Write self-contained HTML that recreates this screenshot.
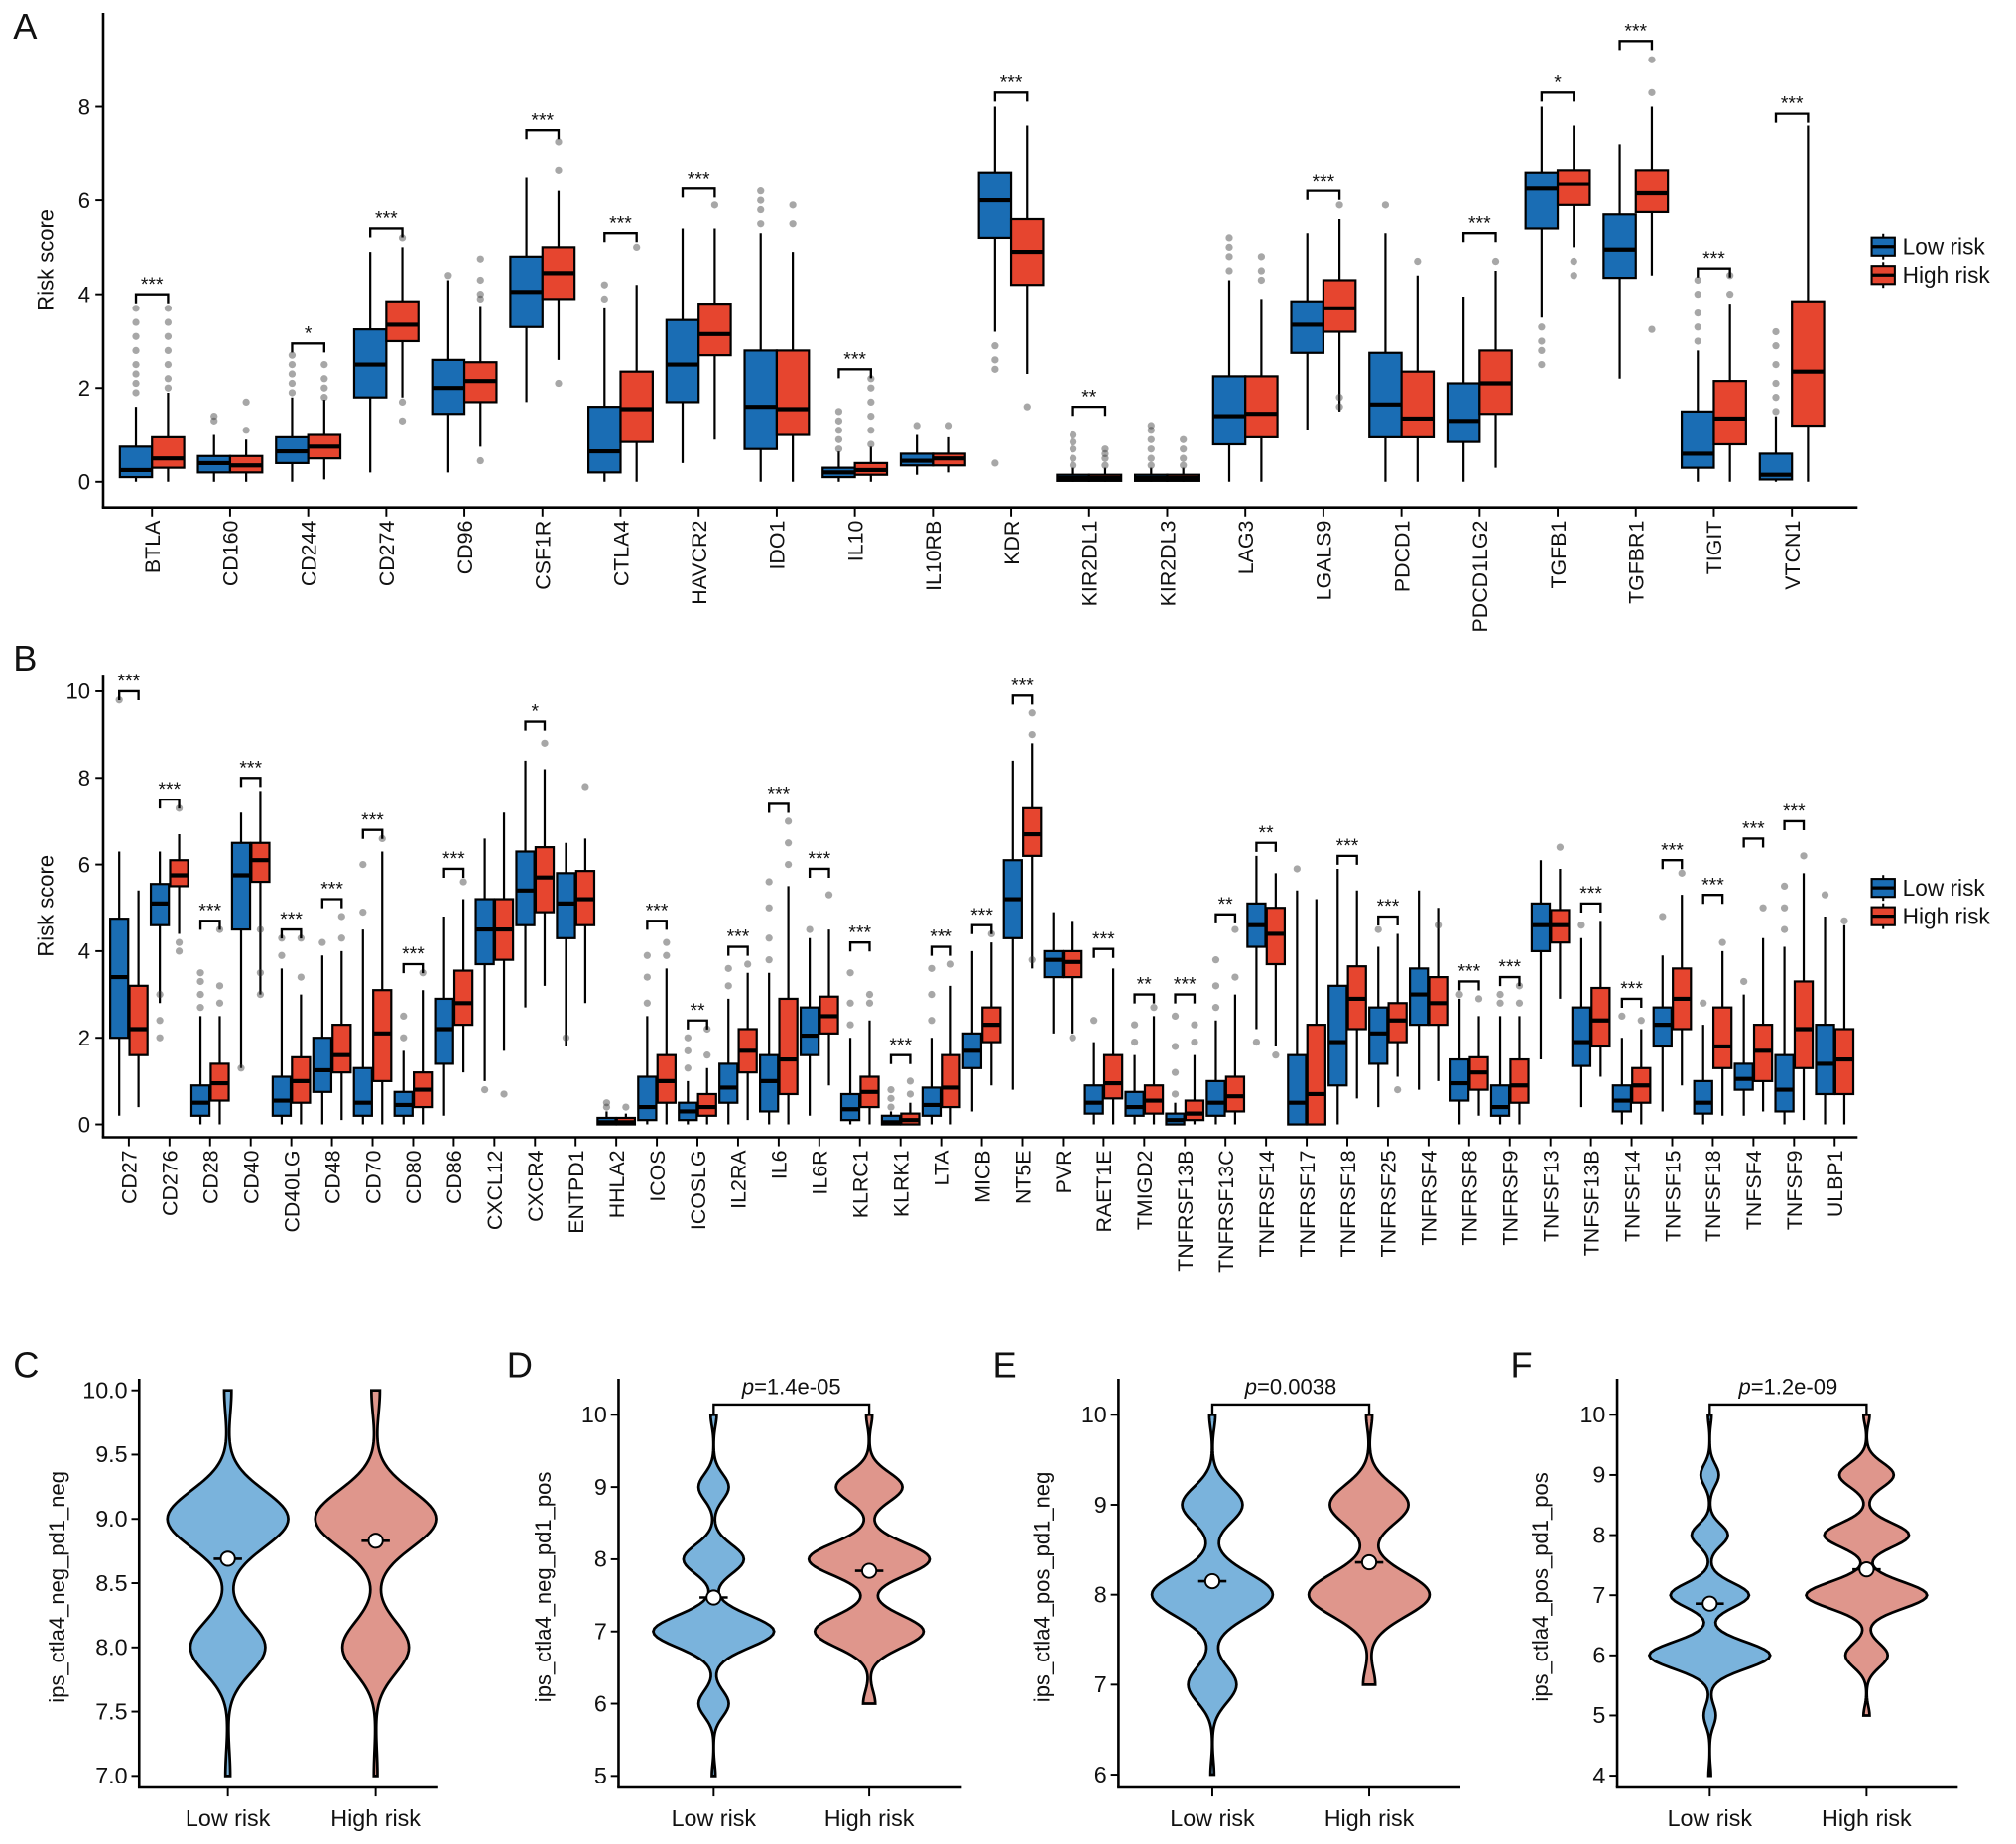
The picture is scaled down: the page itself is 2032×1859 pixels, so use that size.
<!DOCTYPE html>
<html><head><meta charset="utf-8"><style>
html,body{margin:0;padding:0;background:#fff}
svg{display:block}
text{font-family:"Liberation Sans",Arial,sans-serif;fill:#111}
</style></head><body>
<svg id="fig" xmlns="http://www.w3.org/2000/svg" width="2032" height="1859" viewBox="0 0 1568 1435"></svg>
<script>
// ---------- Panel A data ----------
const namesA=["BTLA","CD160","CD244","CD274","CD96","CSF1R","CTLA4","HAVCR2","IDO1","IL10","IL10RB","KDR","KIR2DL1","KIR2DL3","LAG3","LGALS9","PDCD1","PDCD1LG2","TGFB1","TGFBR1","TIGIT","VTCN1"];
// [q1, median, q3, whiskerLow, whiskerHigh]
const lowA=[[0.1,0.25,0.75,0,1.6],[0.2,0.4,0.55,0,1.0],[0.4,0.65,0.95,0,1.8],[1.8,2.5,3.25,0.2,4.9],[1.45,2.0,2.6,0.2,4.3],[3.3,4.05,4.8,1.7,6.5],[0.2,0.65,1.6,0,3.7],[1.7,2.5,3.45,0.4,5.4],[0.7,1.6,2.8,0,5.3],[0.1,0.2,0.3,0,0.65],[0.35,0.45,0.6,0.15,1.0],[5.2,6.0,6.6,3.2,8.0],[0.02,0.08,0.15,0,0.3],[0.02,0.08,0.15,0,0.3],[0.8,1.4,2.25,0,4.3],[2.75,3.35,3.85,1.1,5.3],[0.95,1.65,2.75,0,5.3],[0.85,1.3,2.1,0,3.95],[5.4,6.25,6.6,3.5,8.0],[4.35,4.95,5.7,2.2,7.2],[0.3,0.6,1.5,0,2.8],[0.05,0.15,0.6,0,1.4]];
const highA=[[0.3,0.5,0.95,0,1.9],[0.2,0.35,0.55,0,0.9],[0.5,0.75,1.0,0.05,1.75],[3.0,3.35,3.85,1.8,5.0],[1.7,2.15,2.55,0.75,3.75],[3.9,4.45,5.0,2.6,6.2],[0.85,1.55,2.35,0,4.2],[2.7,3.15,3.8,0.9,5.4],[1.0,1.55,2.8,0,4.9],[0.15,0.25,0.4,0,0.75],[0.35,0.5,0.6,0.2,0.95],[4.2,4.9,5.6,2.3,7.6],[0.02,0.08,0.15,0,0.3],[0.02,0.08,0.15,0,0.3],[0.95,1.45,2.25,0,3.9],[3.2,3.7,4.3,1.5,5.6],[0.95,1.35,2.35,0,4.4],[1.45,2.1,2.8,0.3,4.5],[5.9,6.35,6.65,5.0,7.6],[5.75,6.15,6.65,4.4,8.0],[0.8,1.35,2.15,0,3.8],[1.2,2.35,3.85,0,7.6]];
const outLowA=[[1.9,2.1,2.3,2.5,2.8,3.1,3.4,3.7],[1.3,1.4],[1.9,2.1,2.3,2.5,2.7],[],[4.4],[],[3.9,4.2],[],[5.5,5.8,6.0,6.2],[0.7,0.9,1.1,1.3,1.5],[1.2],[0.4,2.4,2.6,2.9],[0.35,0.5,0.7,0.85,1.0],[0.35,0.5,0.7,0.9,1.1,1.2],[4.5,4.8,5.0,5.2],[],[5.9],[],[2.5,2.8,3.0,3.3],[],[3.0,3.3,3.6,4.0,4.3],[1.5,1.8,2.1,2.5,2.9,3.2]];
const outHighA=[[2.0,2.2,2.5,2.8,3.1,3.4,3.7],[1.1,1.7],[1.8,2.0,2.2,2.5],[1.3,1.7,5.2],[0.45,3.9,4.0,4.3,4.75],[2.1,6.65,7.25],[5.0],[5.9],[5.5,5.9],[0.8,1.1,1.4,1.7,2.0,2.2],[1.2],[1.6],[0.35,0.5,0.6,0.7],[0.35,0.5,0.7,0.9],[4.3,4.5,4.8],[1.6,1.8,5.9],[4.7],[4.7],[4.4,4.7],[3.25,8.3,9.0],[4.0,4.4],[]];
const sigA=["***","","*","***","","***","***","***","","***","","***","**","","","***","","***","*","***","***","***"];
const sigLevelA=[4.0,0,2.95,5.4,0,7.5,5.3,6.25,0,2.4,0,8.3,1.6,0,0,6.2,0,5.3,8.3,9.4,4.55,7.85];
const ticksA=[0,2,4,6,8];

// ---------- Panel B data ----------
const namesB=["CD27","CD276","CD28","CD40","CD40LG","CD48","CD70","CD80","CD86","CXCL12","CXCR4","ENTPD1","HHLA2","ICOS","ICOSLG","IL2RA","IL6","IL6R","KLRC1","KLRK1","LTA","MICB","NT5E","PVR","RAET1E","TMIGD2","TNFRSF13B","TNFRSF13C","TNFRSF14","TNFRSF17","TNFRSF18","TNFRSF25","TNFRSF4","TNFRSF8","TNFRSF9","TNFSF13","TNFSF13B","TNFSF14","TNFSF15","TNFSF18","TNFSF4","TNFSF9","ULBP1"];
const lowB=[[2.0,3.4,4.75,0.2,6.3],[4.6,5.1,5.55,2.8,6.3],[0.2,0.5,0.9,0,2.5],[4.5,5.75,6.5,1.3,7.2],[0.2,0.55,1.1,0,3.6],[0.75,1.25,2.0,0,3.9],[0.2,0.5,1.3,0,4.5],[0.2,0.45,0.75,0,1.7],[1.4,2.2,2.9,0.2,4.8],[3.7,4.5,5.2,1.0,6.6],[4.6,5.4,6.3,2.7,8.4],[4.3,5.1,5.8,1.8,6.5],[0,0.05,0.15,0,0.3],[0.1,0.4,1.1,0,2.5],[0.1,0.3,0.5,0,1.0],[0.5,0.85,1.4,0,2.9],[0.3,1.0,1.6,0,3.5],[1.6,2.05,2.7,0.2,4.3],[0.1,0.35,0.7,0,2.0],[0,0.05,0.2,0,0.3],[0.2,0.45,0.85,0,2.0],[1.3,1.7,2.1,0.3,4.0],[4.3,5.2,6.1,0.8,8.4],[3.4,3.8,4.0,2.1,4.9],[0.25,0.5,0.9,0,1.9],[0.2,0.4,0.75,0,1.6],[0,0.1,0.25,0,0.5],[0.2,0.5,1.0,0,2.4],[4.1,4.6,5.1,2.2,6.2],[0,0.5,1.6,0,5.4],[0.9,1.9,3.2,0,5.9],[1.4,2.1,2.7,0.4,4.1],[2.3,3.0,3.6,0.8,5.4],[0.55,0.95,1.5,0,2.9],[0.2,0.4,0.9,0,2.5],[4.0,4.6,5.1,1.5,6.1],[1.35,1.9,2.7,0.4,4.3],[0.3,0.55,0.9,0,2.0],[1.8,2.3,2.7,0.3,3.9],[0.25,0.5,1.0,0,2.3],[0.8,1.05,1.4,0.2,3.0],[0.3,0.8,1.6,0,4.1],[0.7,1.4,2.3,0,4.8]];
const highB=[[1.6,2.2,3.2,0.4,5.4],[5.5,5.75,6.1,4.4,6.7],[0.55,0.95,1.4,0,2.5],[5.6,6.1,6.5,3.0,7.7],[0.5,1.0,1.55,0,3.0],[1.2,1.6,2.3,0.1,4.0],[1.0,2.1,3.1,0,6.3],[0.4,0.8,1.2,0,3.1],[2.3,2.8,3.55,1.2,5.2],[3.8,4.5,5.2,1.7,7.2],[4.9,5.7,6.4,3.2,8.2],[4.6,5.2,5.85,2.8,6.6],[0,0.05,0.15,0,0.25],[0.5,1.0,1.6,0,3.6],[0.2,0.4,0.7,0,1.3],[1.2,1.7,2.2,0.1,3.5],[0.7,1.5,2.9,0,5.5],[2.1,2.5,2.95,0.9,4.5],[0.4,0.75,1.1,0,2.4],[0,0.1,0.25,0,0.5],[0.4,0.85,1.6,0,3.2],[1.9,2.3,2.7,0.9,4.2],[6.2,6.7,7.3,3.6,8.8],[3.4,3.75,4.0,2.1,4.7],[0.6,0.95,1.6,0,3.6],[0.25,0.55,0.9,0,2.5],[0.1,0.25,0.55,0,1.6],[0.3,0.65,1.1,0,3.0],[3.7,4.4,5.0,1.8,5.8],[0,0.7,2.3,0,5.2],[2.2,2.9,3.65,0.6,5.4],[1.9,2.4,2.8,1.1,4.4],[2.3,2.8,3.4,1.0,5.0],[0.8,1.2,1.55,0.2,2.5],[0.5,0.9,1.5,0,2.5],[4.2,4.6,4.95,2.9,5.9],[1.8,2.4,3.15,1.1,4.7],[0.5,0.9,1.3,0,2.2],[2.2,2.9,3.6,0.9,5.3],[1.3,1.8,2.7,0.2,4.0],[1.0,1.7,2.3,0.3,4.3],[1.3,2.2,3.3,0.1,5.8],[0.7,1.5,2.2,0,4.6]];
const outLowB=[[9.8],[2.0,2.4,3.0],[2.7,3.0,3.3,3.5],[1.3],[3.9,4.3],[4.2],[4.9,6.0],[2.0,2.5],[],[0.8],[],[2.0],[0.4,0.5],[2.8,3.4,3.9],[1.3,1.7,2.0],[3.2,3.6],[3.8,4.3,5.0,5.6],[4.5],[2.3,2.8,3.5],[0.4,0.6,0.8],[2.4,3.0,3.6],[],[],[],[2.4],[1.9,2.3],[0.7,1.2,1.8,2.5],[2.7,3.2,3.8],[1.9],[5.9],[],[4.5],[],[3.0],[2.8,3.0],[],[4.6],[2.5],[4.8],[2.8],[3.3],[4.5,5.0,5.5],[5.3]];
const outHighB=[[],[4.0,4.2,7.3],[2.8,3.2,4.5],[3.0,3.5,4.5],[3.4,4.3],[4.3,4.8],[6.6],[3.5],[5.6],[0.7],[8.8],[7.8],[0.4],[3.9,4.2],[1.6,2.2],[3.7],[6.0,6.5,7.0],[5.3],[2.8,3.0],[0.7,1.0],[3.7],[4.4],[3.8,9.0,9.5],[2.0],[],[2.7],[1.9,2.3],[3.4,4.5],[1.6],[],[],[0.8],[4.6],[2.9],[2.8,3.2],[6.4],[],[2.4],[5.8],[4.2],[5.0],[6.2],[4.7]];
const sigB=["***","***","***","***","***","***","***","***","***","","*","","","***","**","***","***","***","***","***","***","***","***","","***","**","***","**","**","","***","***","","***","***","","***","***","***","***","***","***",""];
const sigLevelB=[10.0,7.5,4.7,8.0,4.5,5.2,6.8,3.7,5.9,0,9.3,0,0,4.7,2.4,4.1,7.4,5.9,4.2,1.6,4.1,4.6,9.9,0,4.05,3.0,3.0,4.85,6.5,0,6.2,4.8,0,3.3,3.4,0,5.1,2.9,6.1,5.3,6.6,7.0,0];
const ticksB=[0,2,4,6,8,10];

// ---------- Violin data (gaussian modes: [center, weight, sd]) ----------
const vRange=[[[7,10],[7,10]],[[5,10],[6,10]],[[6,10],[7,10]],[[4,10],[5,10]]];
const vModesLow=[
 [[9.0,1.0,0.22],[8.0,0.62,0.2],[10,0.06,0.2],[7,0.04,0.2]],
 [[7,1.0,0.22],[8,0.5,0.2],[9,0.25,0.18],[6,0.25,0.18],[10,0.05,0.15],[5,0.03,0.15]],
 [[8,1.0,0.24],[9,0.5,0.2],[7,0.4,0.2],[10,0.05,0.15],[6,0.03,0.15]],
 [[6,1.0,0.22],[7,0.65,0.2],[8,0.3,0.18],[9,0.15,0.18],[5,0.1,0.18],[10,0.03,0.15],[4,0.02,0.15]]];
const vModesHigh=[
 [[9.0,1.0,0.22],[8.0,0.55,0.2],[10,0.07,0.2],[7,0.03,0.2]],
 [[8,1.0,0.22],[7,0.9,0.22],[9,0.55,0.2],[6,0.1,0.18],[10,0.05,0.15]],
 [[8,1.0,0.24],[9,0.65,0.22],[7,0.1,0.18],[10,0.05,0.15]],
 [[7,1.0,0.22],[8,0.7,0.2],[9,0.45,0.2],[6,0.35,0.2],[5,0.05,0.15],[10,0.05,0.15]]];
const vMeans=[[8.69,8.83],[7.47,7.84],[8.15,8.36],[6.86,7.43]];
const vPvals=["","p=1.4e-05","p=0.0038","p=1.2e-09"];
const vTicks=[[7.0,7.5,8.0,8.5,9.0,9.5,10.0],[5,6,7,8,9,10],[6,7,8,9,10],[4,5,6,7,8,9,10]];
const vTitles=["ips_ctla4_neg_pd1_neg","ips_ctla4_neg_pd1_pos","ips_ctla4_pos_pd1_neg","ips_ctla4_pos_pd1_pos"];
const vLetters=["C","D","E","F"];

// ---------- drawing ----------
const NS='http://www.w3.org/2000/svg';
const svg=document.getElementById('fig');
function mk(tag,attrs,parent){const e=document.createElementNS(NS,tag);for(const k in attrs)e.setAttribute(k,attrs[k]);(parent||svg).appendChild(e);return e;}
const BLUE='#1a6db4',RED='#e6452f',VBLUE='#7ab3dc',VRED='#df968c';

function boxPanel(cfg){
  const g=mk('g',{});
  
  
  const ys=v=>cfg.y0-cfg.k*v;
  const cx=i=>cfg.x0+i*cfg.step;
  let a=mk('line',{x1:80,y1:cfg.top,x2:80,y2:cfg.axisY,stroke:'#000','stroke-width':2},g);
  
  
  a=mk('line',{x1:79,y1:cfg.axisY,x2:1445,y2:cfg.axisY,stroke:'#000','stroke-width':2},g);
  
  
  cfg.ticks.forEach(t=>{
    mk('line',{x1:74,y1:ys(t),x2:80,y2:ys(t),stroke:'#000','stroke-width':1.5},g);
    const tx=mk('text',{x:70,y:ys(t)+6,'text-anchor':'end','font-size':17},g);
    tx.textContent=t;
    
    
  });
  let tt=mk('text',{transform:`translate(41,${(cfg.top+cfg.axisY)/2}) rotate(-90)`,'text-anchor':'middle','font-size':17},g);
  tt.textContent='Risk score';
  
  
  let L=mk('text',{x:10,y:cfg.letterY,'font-size':28},g);
  L.textContent=cfg.letter;
  
  
  const w=cfg.bw;
  cfg.names.forEach((n,i)=>{
    const c=cx(i);
    mk('line',{x1:c,y1:cfg.axisY,x2:c,y2:cfg.axisY+7,stroke:'#000','stroke-width':1.5},g);
    const lab=mk('text',{transform:`translate(${c+6},${cfg.axisY+10}) rotate(-90)`,'text-anchor':'end','font-size':16.5},g);
    lab.textContent=n;
    
    
    [[cfg.low[i],cfg.outLow[i],BLUE,-1,'low'],[cfg.high[i],cfg.outHigh[i],RED,1,'high']].forEach(([s,o,col,d,gr])=>{
      const bx=c+d*cfg.dodge;
      const bg=mk('g',{},g);
      
      
      mk('line',{x1:bx,y1:ys(s[3]),x2:bx,y2:ys(s[4]),stroke:'#000','stroke-width':1.7},bg);
      mk('rect',{x:bx-w/2,y:ys(s[2]),width:w,height:Math.max(1,ys(s[0])-ys(s[2])),fill:col,stroke:'#000','stroke-width':1.7},bg);
      mk('line',{x1:bx-w/2,y1:ys(s[1]),x2:bx+w/2,y2:ys(s[1]),stroke:'#000','stroke-width':3.2},bg);
      o.forEach(v=>{mk('circle',{cx:bx,cy:ys(v),r:2.8,fill:'rgba(60,60,60,0.45)'},bg);});
    });
    if(cfg.sig[i]){
      const yv=ys(cfg.sigLevel[i]);
      const sg=mk('g',{},g);
      
      
      mk('path',{d:`M${c-cfg.dodge},${yv+7}V${yv}H${c+cfg.dodge}V${yv+7}`,fill:'none',stroke:'#000','stroke-width':1.8},sg);
      const st=mk('text',{x:c,y:yv-3,'text-anchor':'middle','font-size':15},sg);
      st.textContent=cfg.sig[i];
    }
  });
  const lg=mk('g',{},g);
  
  
  [['Low risk',BLUE,cfg.legY],['High risk',RED,cfg.legY+22]].forEach(([t,col,y])=>{
    const e=mk('g',{},lg);
    
    
    mk('line',{x1:1465,y1:y-10,x2:1465,y2:y+10,stroke:'#000','stroke-width':1.6},e);
    mk('rect',{x:1456,y:y-7,width:18,height:14,fill:col,stroke:'#000','stroke-width':1.6},e);
    mk('line',{x1:1456,y1:y,x2:1474,y2:y,stroke:'#000','stroke-width':2.5},e);
    const tx=mk('text',{x:1480,y:y+6,'font-size':17.5},e);
    tx.textContent=t;
  });
}
boxPanel({name:'panel-a',letter:'A',letterY:30,top:10,axisY:395,y0:375,k:36.5,x0:118,step:60.76,dodge:12.5,bw:25,names:namesA,low:lowA,high:highA,outLow:outLowA,outHigh:outHighA,sig:sigA,sigLevel:sigLevelA,ticks:ticksA,legY:192});
boxPanel({name:'panel-b',letter:'B',letterY:522,top:525,axisY:885,y0:875,k:33.7,x0:100,step:31.6,dodge:7.5,bw:14,names:namesB,low:lowB,high:highB,outLow:outLowB,outHigh:outHighB,sig:sigB,sigLevel:sigLevelB,ticks:ticksB,legY:691});

const vGeom=[{ax:108,lx:177,hx:292,end:340,k:100,letX:10,titleX:50},{ax:481,lx:555,hx:676,end:748,k:56.2,letX:394,titleX:428},{ax:870,lx:943,hx:1065,end:1136,k:70,letX:772,titleX:816},{ax:1258,lx:1330,hx:1452,end:1523,k:46.8,letX:1175,titleX:1204}];
vGeom.forEach((G,p)=>{
  const g=mk('g',{});
  
  
  const tmax=vTicks[p][vTicks[p].length-1];
  const top10=p===0?1082:1101;
  const ys=v=>top10+(tmax-v)*G.k;
  let L=mk('text',{x:G.letX,y:1072,'font-size':28},g);
  L.textContent=vLetters[p];
  
  
  let a=mk('line',{x1:G.ax,y1:1073,x2:G.ax,y2:1391,stroke:'#000','stroke-width':2},g);
  
  
  a=mk('line',{x1:G.ax-1,y1:1391,x2:G.end,y2:1391,stroke:'#000','stroke-width':2},g);
  
  
  vTicks[p].forEach(t=>{
    mk('line',{x1:G.ax-6,y1:ys(t),x2:G.ax,y2:ys(t),stroke:'#000','stroke-width':1.5},g);
    const tx=mk('text',{x:G.ax-9,y:ys(t)+6,'text-anchor':'end','font-size':18},g);
    tx.textContent=p===0?t.toFixed(1):t;
    
    
  });
  const tt=mk('text',{transform:`translate(${G.titleX},1235) rotate(-90)`,'text-anchor':'middle','font-size':17},g);
  tt.textContent=vTitles[p];
  
  
  [[G.lx,vModesLow[p],vRange[p][0],VBLUE,vMeans[p][0],'Low risk'],[G.hx,vModesHigh[p],vRange[p][1],VRED,vMeans[p][1],'High risk']].forEach(([x,modes,rg,col,mean,lab])=>{
    mk('line',{x1:x,y1:1391,x2:x,y2:1398,stroke:'#000','stroke-width':1.5},g);
    const xl=mk('text',{x:x,y:1421,'text-anchor':'middle','font-size':18},g);
    xl.textContent=lab;
    
    
    const dens=v=>modes.reduce((s,m)=>s+m[1]*Math.exp(-((v-m[0])**2)/(2*m[2]*m[2])),0);
    const N=120;let mx=0;const pts=[];
    for(let i=0;i<=N;i++){const v=rg[0]+(rg[1]-rg[0])*i/N;const d=dens(v);pts.push([v,d]);if(d>mx)mx=d;}
    const hw=47;
    let d='M'+pts.map(([v,dd])=>`${(x+hw*dd/mx).toFixed(2)},${ys(v).toFixed(2)}`).join('L');
    d+='L'+pts.slice().reverse().map(([v,dd])=>`${(x-hw*dd/mx).toFixed(2)},${ys(v).toFixed(2)}`).join('L')+'Z';
    const vp=mk('path',{d:d,fill:col,stroke:'#000','stroke-width':2.1},g);
    
    
    mk('line',{x1:x-11,y1:ys(mean),x2:x+11,y2:ys(mean),stroke:'#000','stroke-width':2},g);
    const mc=mk('circle',{cx:x,cy:ys(mean),r:5.5,fill:'#fff',stroke:'#000','stroke-width':1.5},g);
    
    
  });
  if(vPvals[p]){
    const pg=mk('g',{},g);
    
    
    mk('path',{d:`M${G.lx},1101V1093H${G.hx}V1101`,fill:'none',stroke:'#000','stroke-width':1.8},pg);
    const t=mk('text',{x:(G.lx+G.hx)/2,y:1085,'text-anchor':'middle','font-size':17},pg);
    const it=mk('tspan',{'font-style':'italic'},t);it.textContent='p';
    const rest=mk('tspan',{},t);rest.textContent=vPvals[p].slice(1);
  }
});
</script>
</body></html>
